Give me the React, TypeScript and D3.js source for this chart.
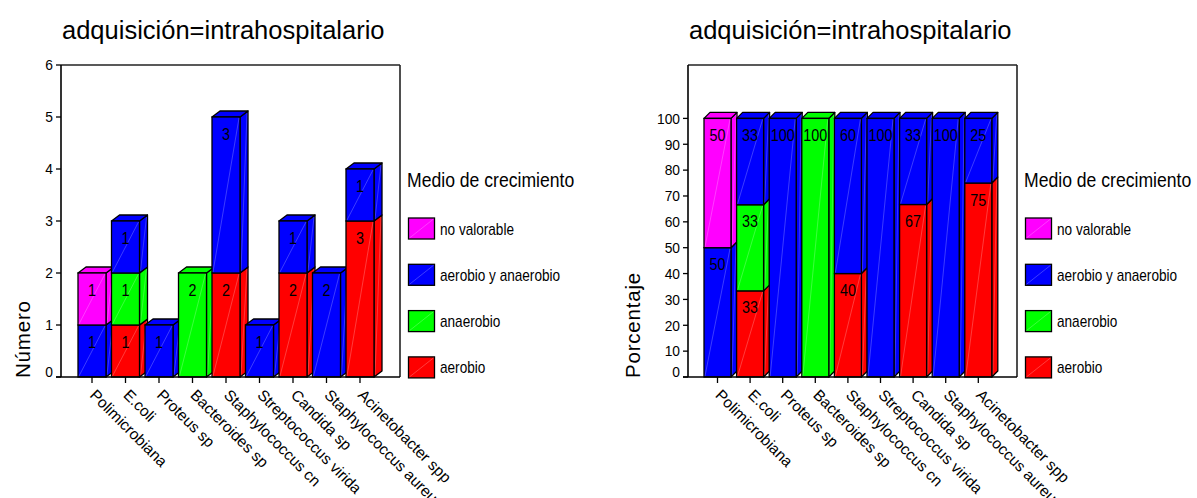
import React from 'react';
import * as d3 from 'd3';

// ---------- data ----------
const categories = [
  'Polimicrobiana',
  'E.coli',
  'Proteus sp',
  'Bacteroides sp',
  'Staphylococcus cn',
  'Streptococcus virida',
  'Candida sp',
  'Staphylococcus aureu',
  'Acinetobacter spp',
];
// stack order bottom -> top
const seriesNames = ['aerobio', 'anaerobio', 'aerobio y anaerobio', 'no valorable'];
const seriesColors = ['#FF0000', '#00FF00', '#0000FF', '#FF00FF'];

const countAerobio = [0, 1, 0, 0, 2, 0, 2, 0, 3];
const countAnaerobio = [0, 1, 0, 2, 0, 0, 0, 0, 0];
const countAerobioYAnaerobio = [1, 1, 1, 0, 3, 1, 1, 2, 1];
const countNoValorable = [1, 0, 0, 0, 0, 0, 0, 0, 0];

const pctAerobio = [0, 33.3, 0, 0, 40, 0, 66.7, 0, 75];
const pctAnaerobio = [0, 33.3, 0, 100, 0, 0, 0, 0, 0];
const pctAerobioYAnaerobio = [50, 33.4, 100, 0, 60, 100, 33.3, 100, 25];
const pctNoValorable = [50, 0, 0, 0, 0, 0, 0, 0, 0];

const countTicks = [0, 1, 2, 3, 4, 5, 6];
const pctTicks = [0, 10, 20, 30, 40, 50, 60, 70, 80, 90, 100];

const titleText = 'adquisición=intrahospitalario';
const legendTitle = 'Medio de crecimiento';
const yTitleLeft = 'Número';
const yTitleRight = 'Porcentaje';

const FONT = '"Liberation Sans", Arial, Helvetica, sans-serif';

type PanelCfg = {
  frameLeft: number;
  frameRight: number;
  frameTop: number;
  bottom: number;
  band: [number, number];
  pad: number;
  dx: number;
  dy: number;
  domain: [number, number];
  yRangeTop: number;
  ticks: number[];
  yTitle: string;
  yTitleX: number;
  series: number[][];
};

const fmt = d3.format('.0f');

function Panel({ cfg }: { cfg: PanelCfg }) {
  const x = d3
    .scaleBand<string>()
    .domain(categories)
    .range(cfg.band)
    .paddingInner(cfg.pad)
    .paddingOuter(0);
  const y = d3.scaleLinear().domain(cfg.domain).range([cfg.bottom, cfg.yRangeTop]);
  const w = x.bandwidth();
  const keys = seriesNames.map((_, j) => 's' + j);
  const rows = categories.map((c, i) => {
    const r: any = { cat: c };
    keys.forEach((k, j) => (r[k] = cfg.series[j][i]));
    return r;
  });
  const stacked = d3.stack<any>().keys(keys)(rows);
  const { dx, dy } = cfg;

  const bars: any[] = [];
  const labels: any[] = [];
  categories.forEach((c, i) => {
    const x0 = x(c) as number;
    const nonzero = keys.map((_, j) => j).filter((j) => cfg.series[j][i] > 0);
    const topJ = nonzero[nonzero.length - 1];
    nonzero.forEach((j) => {
      const seg = stacked[j][i];
      const yb = y(seg[0]);
      const yt = y(seg[1]);
      const col = seriesColors[j];
      const side = [
        [x0 + w, yb],
        [x0 + w + dx, yb - dy],
        [x0 + w + dx, yt - dy],
        [x0 + w, yt],
      ];
      bars.push(
        <g key={`b${i}-${j}`}>
          <polygon
            points={side.map((p) => p.join(',')).join(' ')}
            fill={col}
            stroke="#000"
            strokeWidth={1.3}
            strokeLinejoin="round"
          />
          <line
            x1={x0 + w + 1}
            y1={yb - 2}
            x2={x0 + w + dx - 1}
            y2={yt - dy + 2}
            stroke="#fff"
            strokeOpacity={0.35}
            strokeWidth={0.6}
          />
          {j === topJ && (
            <polygon
              points={[
                [x0, yt],
                [x0 + dx, yt - dy],
                [x0 + w + dx, yt - dy],
                [x0 + w, yt],
              ]
                .map((p) => p.join(','))
                .join(' ')}
              fill={col}
              stroke="#000"
              strokeWidth={1.3}
              strokeLinejoin="round"
            />
          )}
          <rect
            x={x0}
            y={yt}
            width={w}
            height={yb - yt}
            fill={col}
            stroke="#000"
            strokeWidth={1.3}
          />
          <line
            x1={x0 + 1}
            y1={yb - 1}
            x2={x0 + w - 1}
            y2={yt + 1}
            stroke="#fff"
            strokeOpacity={0.4}
            strokeWidth={0.6}
          />
        </g>
      );
      labels.push(
        <text
          key={`l${i}-${j}`}
          transform={`translate(${x0 + w / 2},${yt + 22.5}) scale(0.87,1)`}
          textAnchor="middle"
          fontSize={16.5}
          fill="#000"
        >
          {fmt(cfg.series[j][i])}
        </text>
      );
    });
  });

  const L = cfg.frameLeft;
  const R = cfg.frameRight;
  return (
    <g fontFamily={FONT}>
      {/* title */}
      <text x={L + 1} y={39} fontSize={25.5} fill="#000">
        {titleText}
      </text>
      {/* frame */}
      <line x1={L} y1={cfg.frameTop} x2={R} y2={cfg.frameTop} stroke="#222" strokeWidth={1.6} />
      <line x1={R} y1={cfg.frameTop} x2={R} y2={cfg.bottom} stroke="#222" strokeWidth={1.6} />
      {bars}
      <line x1={L} y1={cfg.frameTop} x2={L} y2={cfg.bottom} stroke="#000" strokeWidth={1.6} />
      <line x1={L - 5} y1={cfg.bottom} x2={R} y2={cfg.bottom} stroke="#000" strokeWidth={1.6} />
      {/* y ticks */}
      {cfg.ticks.map((t, k) => (
        <g key={'yt' + k}>
          <line x1={L - 5} x2={L} y1={y(t)} y2={y(t)} stroke="#000" strokeWidth={1.3} />
          <text
            transform={`translate(${L - 8},${y(t) + 5.3 - (t === 0 ? 5.5 : 0)}) scale(0.92,1)`}
            textAnchor="end"
            fontSize={15}
            fill="#000"
          >
            {t}
          </text>
        </g>
      ))}
      {/* x ticks + labels */}
      {categories.map((c, i) => {
        const cx = (x(c) as number) + w / 2;
        return (
          <g key={'xt' + i}>
            <line x1={cx} x2={cx} y1={cfg.bottom} y2={cfg.bottom + 6} stroke="#000" strokeWidth={1.3} />
            <text
              transform={`translate(${cx - 3},${396}) rotate(45)`}
              fontSize={15.5}
              fill="#000"
            >
              {c}
            </text>
          </g>
        );
      })}
      {labels}
      {/* y title */}
      <text
        transform={`translate(${cfg.yTitleX},${cfg.bottom + 1}) rotate(-90)`}
        fontSize={20.5}
        letterSpacing={0.8}
        fill="#000"
      >
        {cfg.yTitle}
      </text>
      {/* legend */}
      <text transform={`translate(${R + 7},187) scale(0.88,1)`} fontSize={20} fill="#000">
        {legendTitle}
      </text>
      {seriesNames
        .map((n, j) => ({ n, j }))
        .reverse()
        .map(({ n, j }, k) => {
          const sy = 218 + k * 46.3;
          return (
            <g key={'lg' + k}>
              <rect x={R + 8.5} y={sy} width={26} height={21} fill={seriesColors[j]} stroke="#000" strokeWidth={1.3} />
              <line
                x1={R + 9.5}
                y1={sy + 20}
                x2={R + 33.5}
                y2={sy + 1}
                stroke="#fff"
                strokeOpacity={0.4}
                strokeWidth={0.6}
              />
              <text transform={`translate(${R + 40},${sy + 16.5}) scale(0.85,1)`} fontSize={16} fill="#000">
                {n}
              </text>
            </g>
          );
        })}
    </g>
  );
}

export default function App() {
  const left: PanelCfg = {
    frameLeft: 61,
    frameRight: 400,
    frameTop: 65,
    bottom: 377,
    band: [78, 374],
    pad: 0.164,
    dx: 8,
    dy: 6,
    domain: [0, 6],
    yRangeTop: 65,
    ticks: countTicks,
    yTitle: yTitleLeft,
    yTitleX: 29.5,
    series: [countAerobio, countAnaerobio, countAerobioYAnaerobio, countNoValorable],
  };
  const right: PanelCfg = {
    frameLeft: 688,
    frameRight: 1017,
    frameTop: 65,
    bottom: 377,
    band: [704, 991.8],
    pad: 0.172,
    dx: 6,
    dy: 6,
    domain: [0, 100],
    yRangeTop: 118.4,
    ticks: pctTicks,
    yTitle: yTitleRight,
    yTitleX: 639.5,
    series: [pctAerobio, pctAnaerobio, pctAerobioYAnaerobio, pctNoValorable],
  };
  return (
    <svg
      width={1197}
      height={498}
      style={{ position: 'absolute', left: 0, top: 0, background: '#fff' }}
    >
      <rect width={1197} height={498} fill="#fff" />
      <Panel cfg={left} />
      <Panel cfg={right} />
    </svg>
  );
}
